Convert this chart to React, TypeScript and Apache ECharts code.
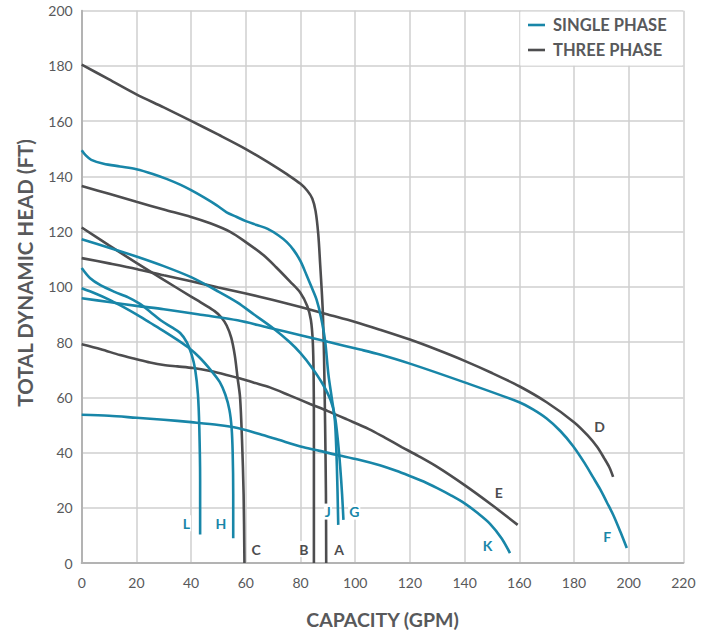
import React, { useEffect, useRef } from 'react';
import * as echarts from 'echarts';

// ---- Axis ranges (min, max, step) ----
const xRange = [0, 220, 20];
const yRange = [0, 200, 20];

// ---- Legend groups ----
const phaseNames = ['SINGLE PHASE', 'THREE PHASE'];

// ---- Pump curves: [capacity GPM, head FT] ----
// Three phase
const curveA: [number, number][] = [
  [0, 180.5], [10, 175.1], [20, 169.7], [30, 165], [40, 160.1], [50, 155.1], [60, 149.9],
  [70, 144], [75, 140.8], [80, 137.3], [82.5, 134.8], [84.3, 132], [85.5, 127.5],
  [86.5, 119], [87.2, 108], [87.8, 98], [88.2, 90], [88.6, 75], [89, 50], [89.3, 25], [89.4, 0],
];
const curveB: [number, number][] = [
  [0, 136.5], [10, 133.7], [20, 130.8], [30, 128], [40, 125.3], [47, 123], [54.3, 119.9],
  [60, 116.2], [66.4, 111.5], [71, 107.2], [76.2, 101.9], [80, 97.8], [82.5, 93], [83.8, 88],
  [84.5, 80], [84.8, 68], [84.9, 50], [84.9, 25], [84.9, 0],
];
const curveC: [number, number][] = [
  [0, 121.5], [10, 115], [20, 108.7], [30, 102.5], [40, 96.5], [45, 93.5], [48.6, 91.2],
  [51, 89], [53, 86], [54.7, 81.5], [56, 75], [57, 67], [57.9, 60], [58.6, 45], [59.2, 25], [59.5, 0],
];
const curveD: [number, number][] = [
  [0, 110.4], [10, 108.5], [20, 106.5], [30, 104.2], [40, 102], [50, 99.8], [60, 97.6],
  [70, 95.2], [80, 92.7], [90, 90], [100, 87.3], [109, 84.5], [120, 80.9], [130, 77.2],
  [140, 73.2], [150, 68.8], [160, 64], [170, 58.2], [180, 51], [185, 46.2], [188.5, 42],
  [191, 38], [193, 34.5], [194.3, 31.2],
];
const curveE: [number, number][] = [
  [0, 79.2], [7, 77.4], [14, 75.3], [20, 73.8], [25, 72.6], [30, 71.7], [35, 71.2],
  [40.8, 70.6], [47, 69.5], [53, 68.1], [58, 66.8], [63, 65.3], [68.8, 63.6], [76, 60.7],
  [83.5, 57.6], [90, 55], [97, 52], [105, 48.5], [111, 45.3], [117, 42], [123, 38.8],
  [130, 34.8], [140, 28.2], [150, 21], [159.4, 13.8],
];
// Single phase
const curveF: [number, number][] = [
  [0, 95.9], [10, 94.5], [20, 93.1], [30, 91.9], [45, 89.7], [57, 87.9], [68, 85.3],
  [80, 82.5], [90, 80.1], [101.8, 77.3], [109, 75.5], [120, 72.2], [140, 65.4], [160, 58.2],
  [165, 55.6], [170, 52.3], [175, 47.8], [179.7, 42.3], [184, 36], [187, 31], [189.5, 26.8],
  [192, 22], [194.4, 17.3], [197, 11.2], [199.3, 5.4],
];
const curveG: [number, number][] = [
  [0, 117.2], [10, 114.2], [20, 111], [30, 107.5], [40, 103.5], [50, 98.3], [57, 94.3],
  [63, 90], [70, 85], [76, 80], [80, 76], [84, 71], [88, 65], [91, 59], [92.6, 53],
  [93.6, 45], [94.5, 35], [95.2, 25], [95.7, 15.6],
];
const curveH: [number, number][] = [
  [0, 99.5], [5, 97.6], [10, 95.4], [15, 92.8], [20, 90], [25, 87], [30, 84], [35, 80.8],
  [39, 78], [43, 74.5], [47.4, 69.6], [50.5, 65.5], [52.5, 61], [54, 55.5], [54.8, 49],
  [55.2, 40], [55.4, 25], [55.4, 9],
];
const curveJ: [number, number][] = [
  [0, 149.5], [1.5, 147.6], [3.5, 146], [8, 144.6], [14, 143.6], [20, 142.6], [26, 140.9],
  [31, 139.1], [36, 137], [40, 135], [45, 132.2], [49.4, 129.5], [53, 127], [56.7, 125.3],
  [60, 123.8], [64, 122.4], [68, 121], [72, 118.6], [75, 116.2], [77.5, 113.3], [80, 109.3],
  [82.2, 104.3], [84, 100], [85.9, 95.3], [87.5, 89], [89, 80.4], [90.2, 68.3], [91.4, 60],
  [92.6, 51.2], [93.3, 35], [93.8, 13.8],
];
const curveK: [number, number][] = [
  [0, 53.7], [10, 53.3], [20, 52.6], [30, 51.9], [40, 51], [50, 50], [57, 48.9], [65, 46.7],
  [72, 44.6], [80, 42.2], [87, 40.6], [93, 39.2], [101, 37.5], [109, 35.4], [115, 33.4],
  [120, 31.5], [125, 29.5], [130, 27.1], [135, 24.5], [140, 21.6], [145, 17.9], [149.3, 14.2],
  [153.5, 9], [156.6, 3.6],
];
const curveL: [number, number][] = [
  [0, 106.8], [3, 103.2], [7, 100.5], [12, 98.2], [17, 96.2], [21, 94], [25, 91], [29, 87.8],
  [33, 85.3], [36, 83.3], [38.4, 80], [40.2, 75.5], [41.5, 70], [42.5, 61], [43, 49],
  [43.3, 30], [43.3, 10.3],
];

const threePhaseCurves = [curveA, curveB, curveC, curveD, curveE];
const threePhaseLetters = ['A', 'B', 'C', 'D', 'E'];
const singlePhaseCurves = [curveF, curveG, curveH, curveJ, curveK, curveL];
const singlePhaseLetters = ['F', 'G', 'H', 'J', 'K', 'L'];

// ---- Styling ----
const BLUE = '#1886a8';
const DARK = '#4d4d4f';
const TEXT = '#58595b';
const FONT = 'Lato, "Open Sans", sans-serif';

const letterOffsets: Record<string, [number, number]> = {
  A: [13, -14], B: [-10, -14], C: [11.6, -14], D: [-13.6, -50], E: [-19, -32.3],
  F: [-19.6, -11.7], G: [10.8, -8.3], H: [-12.4, -15], J: [-10.4, -13.3],
  K: [-22.5, -7.7], L: [-13.7, -11.3],
};

function makeSeries(points: [number, number][], letter: string, phase: string, color: string) {
  const last = points[points.length - 1];
  return {
    type: 'line',
    name: phase,
    id: 'curve-' + letter,
    data: points,
    showSymbol: false,
    symbol: 'none',
    smooth: 0.3,
    silent: true,
    lineStyle: { color, width: 2.6 },
    itemStyle: { color },
    emphasis: { disabled: true },
    markPoint: {
      symbol: 'circle',
      symbolSize: 0,
      silent: true,
      animation: false,
      data: [{ coord: last, value: letter }],
      label: {
        show: true,
        position: 'inside',
        offset: letterOffsets[letter],
        formatter: letter,
        color,
        fontWeight: 'bold',
        fontSize: 14,
        fontFamily: FONT,
        backgroundColor: '#ffffff',
        padding: [1, 1],
      },
    },
  };
}

export default function App() {
  const ref = useRef<HTMLDivElement>(null);
  useEffect(() => {
    if (!ref.current) return;
    const chart = echarts.init(ref.current, undefined, { renderer: 'svg' });
    const series = [
      ...threePhaseCurves.map((c, i) => makeSeries(c, threePhaseLetters[i], phaseNames[1], DARK)),
      ...singlePhaseCurves.map((c, i) => makeSeries(c, singlePhaseLetters[i], phaseNames[0], BLUE)),
    ];
    chart.setOption({
      animation: false,
      backgroundColor: '#ffffff',
      grid: { left: 81.7, right: 28.6, top: 10.7, bottom: 67.3, containLabel: false },
      xAxis: {
        type: 'value',
        min: xRange[0], max: xRange[1], interval: xRange[2],
        axisLine: { show: true, lineStyle: { color: '#b3b3b3', width: 2 } },
        axisTick: { show: false },
        splitLine: { show: true, showMinLine: true, showMaxLine: true, lineStyle: { color: '#cfcfcf', width: 1.5 } },
        axisLabel: { color: TEXT, fontSize: 14, fontFamily: FONT, margin: 12 },
        name: 'CAPACITY (GPM)',
        nameLocation: 'middle',
        nameGap: 46,
        nameTextStyle: { color: TEXT, fontSize: 19.5, fontWeight: 'bold', fontFamily: FONT },
      },
      yAxis: {
        type: 'value',
        min: yRange[0], max: yRange[1], interval: yRange[2],
        axisLine: { show: true, lineStyle: { color: '#b3b3b3', width: 2 } },
        axisTick: { show: false },
        splitLine: { show: true, showMinLine: true, showMaxLine: true, lineStyle: { color: '#cfcfcf', width: 1.5 } },
        axisLabel: { color: TEXT, fontSize: 14, fontFamily: FONT, margin: 9 },
        name: 'TOTAL DYNAMIC HEAD (FT)',
        nameLocation: 'middle',
        nameGap: 46,
        nameTextStyle: { color: TEXT, fontSize: 20.5, fontWeight: 'bold', fontFamily: FONT, padding: [0, 0, 0, 28] },
      },
      legend: {
        data: phaseNames,
        orient: 'vertical',
        left: 528,
        top: 16.5,
        padding: 0,
        itemGap: 8,
        itemWidth: 17,
        itemHeight: 2.6,
        icon: 'rect',
        selectedMode: false,
        z: 10,
        textStyle: { color: TEXT, fontWeight: 'bold', fontSize: 16.5, fontFamily: FONT, lineHeight: 16, padding: [0, 0, 0, 3] },
      },
      graphic: [
        {
          type: 'rect',
          z: 1,
          silent: true,
          shape: { x: 520.3, y: 11.7, width: 162.1, height: 53.8 },
          style: { fill: '#ffffff' },
        },
      ],
      series,
    });
    return () => chart.dispose();
  }, []);
  return (
    <div
      ref={ref}
      style={{ position: 'absolute', left: 0, top: 0, width: 712, height: 634 }}
    />
  );
}
